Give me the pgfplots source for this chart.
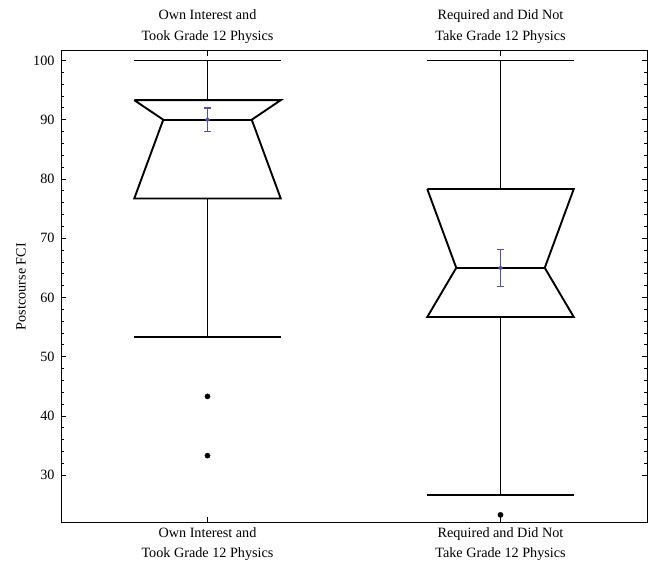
\documentclass[border=0pt]{standalone}
\usepackage{pgfplots}
\pgfplotsset{compat=1.18}
\usepackage{fontspec}
\setmainfont{Liberation Serif}
\definecolor{ebar}{RGB}{80,80,175}
\begin{document}
\begin{tikzpicture}[font=\fontsize{14.2bp}{20.5bp}\selectfont]
\pgfplotsset{
  common/.style={
    width=586bp, height=471bp, scale only axis,
    at={(0,0)}, anchor=south west,
    xmin=0.5, xmax=2.5, ymin=22.1, ymax=101.6,
    axis line style={line width=1bp},
    xtick={1,2},
    xticklabels={{Own Interest and\\Took Grade 12 Physics},{Required and Did Not\\Take Grade 12 Physics}},
    major tick length=5bp, minor tick length=3bp,
    every tick/.style={black, line width=0.8bp},
    /pgf/number format/assume math mode=true,
  }
}
\begin{axis}[common,
  xticklabel pos=lower,
  xticklabel style={align=center, yshift=-2bp},
  yticklabel style={xshift=-3bp},
  ytick={30,40,...,100},
  minor y tick num=4,
  ylabel={Postcourse FCI},
  every axis y label/.style={at={(axis description cs:-0.0683,0.5)}, rotate=90, anchor=center},
  tick pos=both,
]
% Box 1
\addplot[black, line width=1.9bp, sharp plot] coordinates {(0.75,93.3) (1.25,93.3) (1.151,90) (1.25,76.7) (0.75,76.7) (0.849,90) (0.75,93.3)};
\addplot[black, line width=1.9bp] coordinates {(0.849,90) (1.151,90)};
\addplot[black, line width=1.9bp] coordinates {(1,93.3) (1,100)};
\addplot[black, line width=1.9bp] coordinates {(0.75,100) (1.25,100)};
\addplot[black, line width=1.9bp] coordinates {(1,76.7) (1,53.3)};
\addplot[black, line width=1.9bp] coordinates {(0.75,53.3) (1.25,53.3)};
\addplot[only marks, mark=*, mark size=2.6bp, black] coordinates {(1,43.3) (1,33.3)};
% Box 2
\addplot[black, line width=1.9bp, sharp plot] coordinates {(1.75,78.3) (2.25,78.3) (2.151,65) (2.25,56.7) (1.75,56.7) (1.849,65) (1.75,78.3)};
\addplot[black, line width=1.9bp] coordinates {(1.849,65) (2.151,65)};
\addplot[black, line width=1.9bp] coordinates {(2,78.3) (2,100)};
\addplot[black, line width=1.9bp] coordinates {(1.75,100) (2.25,100)};
\addplot[black, line width=1.9bp] coordinates {(2,56.7) (2,26.7)};
\addplot[black, line width=1.9bp] coordinates {(1.75,26.7) (2.25,26.7)};
\addplot[only marks, mark=*, mark size=2.6bp, black] coordinates {(2,23.3)};
% Error bars
\addplot[only marks, mark=*, mark size=1.6bp, ebar, line width=1.3bp,
  error bars/.cd, y dir=both, y explicit, error mark options={ebar, line width=1.3bp, mark size=3.5bp, rotate=90}]
  coordinates {(1,90) +- (0,2.0) (2,65) +- (0,3.15)};
\end{axis}
\begin{axis}[common,
  xticklabel pos=upper,
  xticklabel style={align=center, yshift=4bp},
  ytick=\empty,
  axis line style={draw=none},
  tick pos=both,
]
\end{axis}
\pgfresetboundingbox
\path (-61bp,-41bp) rectangle (595bp,522bp);
\end{tikzpicture}
\end{document}
